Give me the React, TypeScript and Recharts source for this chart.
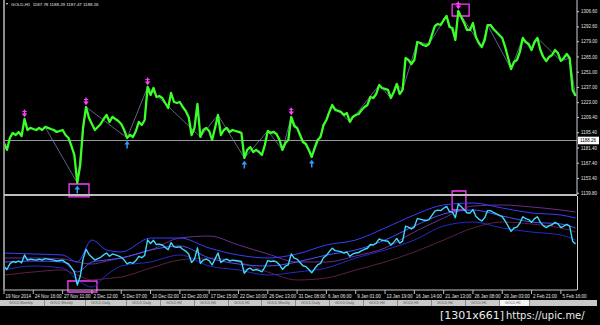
import { ComposedChart, Line, ReferenceArea, ReferenceLine, XAxis, YAxis } from 'recharts'

// GOLD H1, sampled roughly every 7 bars (10 samples between time labels)
const timeLabels = [
  '19 Nov 2014', '24 Nov 16:00', '27 Nov 11:00', '2 Dec 12:00', '5 Dec 07:00',
  '10 Dec 02:00', '12 Dec 20:00', '17 Dec 15:00', '22 Dec 10:00', '26 Dec 13:00',
  '31 Dec 08:00', '6 Jan 06:00', '9 Jan 01:00', '13 Jan 19:00', '16 Jan 14:00',
  '21 Jan 13:00', '26 Jan 08:00', '29 Jan 03:00', '2 Feb 21:00', '5 Feb 16:00',
]
const samplesPerLabel = 10

const closePrices = [
  1186.0, 1179.6, 1190.6, 1195.2, 1193.3, 1196.1, 1192.4, 1208.0, 1197.9, 1199.8,
  1198.8, 1197.9, 1199.8, 1197.9, 1200.7, 1199.8, 1198.8, 1197.9, 1196.1, 1197.0,
  1197.9, 1193.3, 1190.6, 1183.2, 1175.0, 1149.3, 1165.8, 1200.7, 1219.0, 1208.9,
  1203.4, 1197.9, 1200.7, 1203.4, 1208.0, 1211.7, 1205.3, 1209.9, 1208.0, 1206.2,
  1203.4, 1197.9, 1190.6, 1193.3, 1191.5, 1197.0, 1205.3, 1202.5, 1207.1, 1237.4,
  1230.1, 1236.5, 1228.2, 1229.1, 1227.3, 1222.7, 1218.1, 1231.9, 1223.6, 1222.7,
  1223.6, 1219.0, 1215.4, 1209.9, 1193.3, 1199.8, 1221.8, 1191.5, 1197.9, 1199.8,
  1197.0, 1188.7, 1199.8, 1211.7, 1193.3, 1197.9, 1199.8, 1196.1, 1197.9, 1197.0,
  1196.1, 1195.2, 1172.2, 1179.6, 1182.3, 1177.7, 1179.6, 1177.7, 1175.0, 1184.1,
  1197.0, 1195.2, 1196.1, 1194.3, 1188.7, 1179.6, 1186.0, 1188.7, 1209.9, 1201.6,
  1199.8, 1193.3, 1186.9, 1185.1, 1179.6, 1173.1, 1181.4, 1188.7, 1191.5, 1202.5,
  1207.1, 1214.5, 1220.9, 1216.3, 1215.4, 1214.5, 1211.7, 1213.5, 1205.3, 1209.9,
  1211.7, 1212.6, 1216.3, 1219.0, 1220.9, 1228.2, 1227.3, 1231.0, 1239.2, 1236.5,
  1235.6, 1234.7, 1227.3, 1232.8, 1240.2, 1231.0, 1234.7, 1264.0, 1262.2, 1258.5,
  1262.2, 1278.7, 1277.8, 1276.0, 1275.1, 1276.9, 1285.2, 1293.4, 1295.3, 1294.3,
  1298.9, 1302.6, 1292.5, 1291.6, 1280.6, 1307.2, 1301.7, 1296.2, 1289.8, 1289.8,
  1296.2, 1283.3, 1277.8, 1274.1, 1280.6, 1294.3, 1294.3, 1290.7, 1287.9, 1285.2,
  1282.4, 1274.1, 1264.0, 1253.9, 1260.4, 1262.2, 1269.6, 1282.4, 1278.7, 1276.9,
  1271.4, 1278.7, 1282.4, 1271.4, 1265.0, 1261.3, 1265.0, 1266.8, 1271.4, 1268.6,
  1261.3, 1264.0, 1267.7, 1264.0, 1234.7, 1229.1,
]

const lastPrice = 1188.26
const priceTicks = [1306.6, 1292.6, 1279.0, 1265.0, 1251.0, 1237.0, 1223.0, 1209.4, 1195.4, 1181.4, 1167.4, 1153.4, 1139.8]

const peakBars = [7, 28, 49, 98, 155]
const troughBars = [25, 42, 82, 105]
const zigzagBars = [14, 25, 28, 42, 49, 67, 73, 82, 90, 95, 98, 105, 112, 118, 128, 132, 134, 136, 141, 145, 151, 154, 155, 163, 165, 173, 177, 180, 182, 190, 193, 195]

// lower window: bands / averages read at these samples
const bandBars = [0, 10, 20, 25, 30, 35, 40, 50, 60, 70, 80, 90, 100, 110, 120, 130, 140, 150, 160, 170, 180, 190, 195]
const upperBand = [1211.7, 1209.8, 1207.8, 1194.2, 1237.0, 1217.6, 1213.7, 1240.9, 1240.9, 1221.5, 1207.8, 1202.0, 1209.8, 1227.3, 1237.0, 1260.4, 1285.8, 1305.3, 1309.2, 1299.4, 1289.7, 1285.8, 1279.9]
const lowerBand = [1178.6, 1186.4, 1182.5, 1159.1, 1145.4, 1168.8, 1186.4, 1194.2, 1207.8, 1186.4, 1178.6, 1168.8, 1174.7, 1182.5, 1202.0, 1217.6, 1237.0, 1264.3, 1272.1, 1260.4, 1252.6, 1246.8, 1237.0]
const fastAverage = [1194.2, 1196.1, 1194.2, 1174.7, 1194.2, 1198.1, 1202.0, 1217.6, 1225.4, 1202.0, 1190.3, 1186.4, 1194.2, 1207.8, 1217.6, 1237.0, 1264.3, 1287.7, 1295.5, 1283.8, 1272.1, 1268.2, 1260.4]
const slowUpper = [1202.0, 1202.0, 1200.0, 1194.2, 1190.3, 1196.1, 1202.0, 1217.6, 1240.9, 1244.8, 1227.3, 1209.8, 1194.2, 1194.2, 1205.9, 1221.5, 1252.6, 1279.9, 1303.3, 1305.3, 1301.4, 1295.5, 1291.6]
const slowLower = [1168.8, 1174.7, 1178.6, 1168.8, 1159.1, 1162.0, 1164.9, 1182.5, 1198.1, 1202.0, 1194.2, 1174.7, 1159.1, 1163.0, 1178.6, 1194.2, 1213.7, 1237.0, 1260.4, 1272.1, 1268.2, 1260.4, 1252.6]

const tabNames = [
  'GOLD,Monthly', 'GOLD,Weekly', 'GOLD,Daily', 'GOLD,Daily', 'GOLD,H4', 'GOLD,H4', 'GOLD,H1', 'GOLD,Weekly',
  'GOLD,Daily', 'GOLD,Daily', 'GOLD,H4', 'GOLD,H1', 'GOLD,H4', 'GOLD,H1', 'GOLD,H1',
]

const rows = closePrices.map((price, i) => ({ i, price }))
const zigzag = zigzagBars.map((i) => ({ i, price: closePrices[i] }))
const bandRows = (values: number[]) => bandBars.map((i, k) => ({ i, value: values[k] }))
const xTicks = timeLabels.map((_, k) => k * samplesPerLabel)
const xDomain: [number, number] = [0, 195.5]

const FONT = '"Liberation Sans", Arial, sans-serif'
const MAGENTA = '#ff3cff'
const ARROW_BLUE = '#2f9bff'

function PivotArrow(props: any) {
  const { cx, cy, index } = props
  if (cx == null || cy == null) return <g key={`p${index}`} />
  if (peakBars.includes(index)) {
    const t = cy - 9.5
    return (
      <g key={`p${index}`}>
        <line x1={cx} y1={t} x2={cx} y2={t + 5} stroke={MAGENTA} strokeWidth={1.5} />
        <line x1={cx - 2.2} y1={t + 2} x2={cx + 2.2} y2={t + 2} stroke={MAGENTA} strokeWidth={1} />
        <path d={`M${cx - 2.8},${t + 4} L${cx + 2.8},${t + 4} L${cx},${t + 7.8} Z`} fill={MAGENTA} />
      </g>
    )
  }
  if (troughBars.includes(index)) {
    const b = cy + 10.5
    return (
      <g key={`p${index}`}>
        <line x1={cx} y1={b} x2={cx} y2={b - 5} stroke={ARROW_BLUE} strokeWidth={1.5} />
        <path d={`M${cx - 2.8},${b - 4} L${cx + 2.8},${b - 4} L${cx},${b - 7.8} Z`} fill={ARROW_BLUE} />
      </g>
    )
  }
  return <g key={`p${index}`} />
}

function LastPriceLabel({ viewBox }: any) {
  const { x, y, width } = viewBox
  return (
    <g>
      <rect x={x + width + 1} y={y - 3.8} width={21} height={7.6} fill="#ffffff" />
      <text x={x + width + 3} y={y + 1.6} fontSize={4.5} fontFamily={FONT} fill="#000">
        {lastPrice.toFixed(2)}
      </text>
    </g>
  )
}

function TimeTick({ x, y, payload }: any) {
  const label = timeLabels[Math.round(payload.value / samplesPerLabel)]
  return (
    <g>
      <line x1={x} y1={y} x2={x} y2={y + 4} stroke="#bdbdbd" strokeWidth={1} />
      <text x={x + 1.5} y={y + 7.6} fontSize={4.5} fontFamily={FONT} fill="#e6e6e6">
        {label}
      </text>
    </g>
  )
}

export default function App() {
  return (
    <div style={{ position: 'absolute', left: 0, top: 0, width: 600, height: 325, background: '#000', overflow: 'hidden', fontFamily: FONT }}>
      {/* price window */}
      <div style={{ position: 'absolute', left: 0, top: 0 }}>
        <ComposedChart width={600} height={198} data={rows} margin={{ top: 0, right: 0, bottom: 3, left: 4 }}>
          <XAxis type="number" dataKey="i" domain={xDomain} allowDataOverflow hide />
          <YAxis
            orientation="right"
            width={23}
            domain={[1138.2, 1317.3]}
            allowDataOverflow
            ticks={priceTicks}
            interval={0}
            tickFormatter={(v: number) => v.toFixed(2)}
            tickSize={2}
            tickMargin={2}
            tickLine={{ stroke: '#d0d0d0' }}
            axisLine={{ stroke: '#d0d0d0' }}
            tick={{ fill: '#e0e0e0', fontSize: 4.5, fontFamily: FONT }}
          />
          <ReferenceLine y={lastPrice} stroke="#9a9a9a" strokeWidth={1} label={<LastPriceLabel />} />
          <Line data={zigzag} dataKey="price" stroke="#6f7fa6" strokeWidth={0.8} dot={false} activeDot={false} isAnimationActive={false} />
          <Line dataKey="price" stroke="#3cff2a" strokeWidth={2.3} strokeLinejoin="round" dot={PivotArrow} activeDot={false} isAnimationActive={false} />
          <ReferenceArea x1={22.2} x2={29} y1={1136.4} y2={1148.3} ifOverflow="visible" fill="none" stroke={MAGENTA} strokeWidth={1.3} />
          <ReferenceArea x1={152.9} x2={158.7} y1={1302.6} y2={1313.6} ifOverflow="visible" fill="none" stroke={MAGENTA} strokeWidth={1.3} />
        </ComposedChart>
      </div>

      {/* indicator window */}
      <div style={{ position: 'absolute', left: 0, top: 190 }}>
        <ComposedChart width={600} height={110} data={rows} margin={{ top: 6, right: 23, bottom: 0, left: 4 }}>
          <XAxis
            type="number"
            dataKey="i"
            domain={xDomain}
            allowDataOverflow
            ticks={xTicks}
            interval={0}
            height={10}
            tickSize={0}
            tickMargin={0}
            tickLine={false}
            axisLine={{ stroke: '#c8c8c8' }}
            tick={<TimeTick />}
          />
          <YAxis hide domain={[1139.6, 1322.8]} allowDataOverflow />
          <Line data={bandRows(slowLower)} dataKey="value" type="monotone" stroke="#5e1f48" strokeWidth={1} dot={false} activeDot={false} isAnimationActive={false} />
          <Line data={bandRows(slowUpper)} dataKey="value" type="monotone" stroke="#6e2c92" strokeWidth={1} dot={false} activeDot={false} isAnimationActive={false} />
          <Line data={bandRows(lowerBand)} dataKey="value" type="monotone" stroke="#2828c8" strokeWidth={1} dot={false} activeDot={false} isAnimationActive={false} />
          <Line data={bandRows(upperBand)} dataKey="value" type="monotone" stroke="#3d3dff" strokeWidth={1} dot={false} activeDot={false} isAnimationActive={false} />
          <Line data={bandRows(fastAverage)} dataKey="value" type="monotone" stroke="#4a52ff" strokeWidth={1} dot={false} activeDot={false} isAnimationActive={false} />
          <Line dataKey="price" stroke="#3fd8ff" strokeWidth={1.4} strokeLinejoin="round" dot={false} activeDot={false} isAnimationActive={false} />
          <ReferenceArea x1={152.9} x2={157.6} y1={1295.5} y2={1332.5} ifOverflow="visible" fill="none" stroke={MAGENTA} strokeWidth={1.3} />
          <ReferenceArea x1={21.8} x2={31.7} y1={1135.7} y2={1157.1} ifOverflow="visible" fill="none" stroke={MAGENTA} strokeWidth={1.3} />
        </ComposedChart>
      </div>

      {/* frame lines */}
      <div style={{ position: 'absolute', left: 3, top: 0, width: 2, height: 290, background: '#8c8c8c' }} />
      <div style={{ position: 'absolute', left: 4, top: 194, width: 573, height: 2, background: '#bdbdbd' }} />
      <div style={{ position: 'absolute', left: 577, top: 196, width: 1, height: 94, background: '#d0d0d0' }} />

      {/* header */}
      <div style={{ position: 'absolute', left: 6, top: 3, width: 0, height: 0, borderLeft: '1.6px solid transparent', borderRight: '1.6px solid transparent', borderTop: '2.4px solid #e8e8e8' }} />
      <div style={{ position: 'absolute', left: 11, top: 2, fontSize: 4.4, lineHeight: '6px', color: '#e8e8e8', whiteSpace: 'pre' }}>
        {'GOLD,H1  1187.78 1188.29 1187.47 1188.26'}
      </div>

      {/* tab strip */}
      <div style={{ position: 'absolute', left: 0, top: 300, width: 597, height: 6, background: '#c9c9c9', display: 'flex', paddingLeft: 4, boxSizing: 'border-box' }}>
        {tabNames.map((name, k) => (
          <div
            key={k}
            style={{
              width: k === 6 ? 33 : k === 14 ? 30 : k < 3 ? 41 : 34,
              height: 6,
              boxSizing: 'border-box',
              borderRight: '1px solid #8a8a8a',
              background: k === tabNames.length - 1 ? '#f4f4f4' : 'transparent',
              fontSize: 3.6,
              lineHeight: '6px',
              color: '#555',
              paddingLeft: 5,
              whiteSpace: 'nowrap',
              overflow: 'hidden',
            }}
          >
            {name}
          </div>
        ))}
      </div>

      {/* watermark */}
      <div style={{ position: 'absolute', left: 440, top: 307, whiteSpace: 'pre', color: '#ececec', lineHeight: '14px' }}>
        <span style={{ fontSize: 11, fontFamily: '"DejaVu Sans", sans-serif' }}>[1301x661]</span>
        <span style={{ fontSize: 11, fontFamily: '"DejaVu Sans Condensed", "DejaVu Sans", sans-serif', marginLeft: 2 }}>https://upic.me/</span>
      </div>
    </div>
  )
}
